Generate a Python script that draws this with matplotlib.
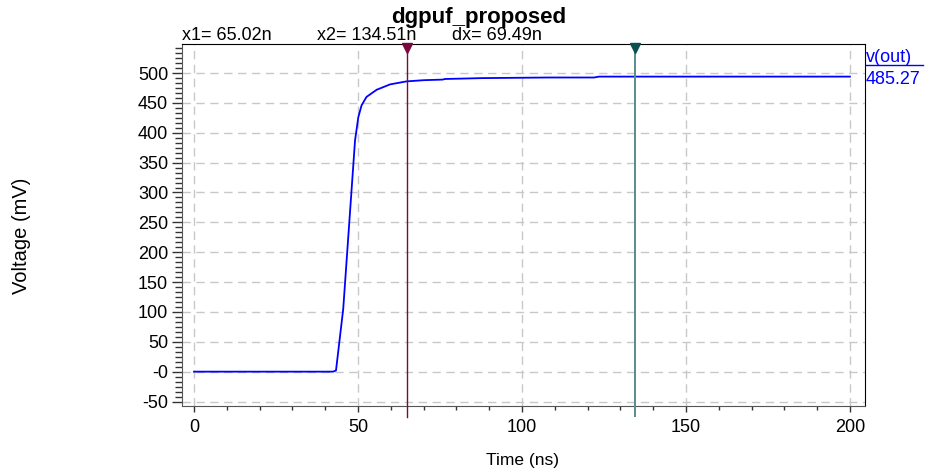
import matplotlib
matplotlib.use("Agg")
import matplotlib.pyplot as plt
from matplotlib.ticker import AutoMinorLocator, FixedLocator
from matplotlib.lines import Line2D

plt.rcParams['font.family'] = ['Liberation Sans', 'DejaVu Sans']

# ---- data ----
time_ns = [0, 42.4, 43.3, 45.5, 49.1, 50.1, 51.1, 52.6, 55.7, 59.8, 64.8,
           70, 75.8, 76.5, 88, 108, 122, 123.5, 200]
v_out_mV = [0, 0, 2, 105, 387, 426, 446, 460, 472, 481, 486,
            488, 489, 490, 491.5, 492.5, 492.5, 494, 494]
x_ticks = [0, 50, 100, 150, 200]
y_ticks = [-50, 0, 50, 100, 150, 200, 250, 300, 350, 400, 450, 500]
y_tick_labels = ['-50', '-0', '50', '100', '150', '200', '250', '300',
                 '350', '400', '450', '500']
cursor_x1 = 65.02
cursor_x2 = 134.51
title = 'dgpuf_proposed'
header_x1 = 'x1= 65.02n'
header_x2 = 'x2= 134.51n'
header_dx = 'dx= 69.49n'
legend_name = 'v(out)'
legend_value = '485.27'

W, H = 933, 475
fig = plt.figure(figsize=(W / 100, H / 100), dpi=100)
ax = fig.add_axes([182 / W, 1 - 406 / H, (865 - 182) / W, (406 - 44) / H])

ax.plot(time_ns, v_out_mV, color='#0000ff', lw=1.3, zorder=3)

ax.set_xlim(-3.66, 204.6)
ax.set_ylim(-57.5, 548.6)

ax.xaxis.set_major_locator(FixedLocator(x_ticks))
ax.xaxis.set_minor_locator(AutoMinorLocator(5))
ax.yaxis.set_major_locator(FixedLocator(y_ticks))
ax.set_yticklabels(y_tick_labels)
ax.yaxis.set_minor_locator(AutoMinorLocator(6))

ax.tick_params(axis='both', which='both', direction='out', labelsize=13,
               color='#333333', width=1)
ax.tick_params(axis='y', which='major', length=7, pad=3)
ax.tick_params(axis='y', which='minor', length=5)
ax.tick_params(axis='x', which='major', length=4, pad=5)
ax.tick_params(axis='x', which='minor', length=3)

ax.grid(True, which='major', color='#c8c8c8', linestyle=(0, (6, 4)), lw=1)
for s in ['left', 'bottom']:
    ax.spines[s].set_color('#555555')
for s in ['top', 'right']:
    ax.spines[s].set_color('#000000')

# cursors
c1_line, c1_mark = '#7a0a3c', '#7a0a3c'
c2_line, c2_mark = '#5a8c8c', '#0d4f4f'
trans = ax.get_xaxis_transform()
ax.axvline(cursor_x1, ymin=-0.03, ymax=1, color=c1_line, lw=1.0,
           clip_on=False, zorder=4)
ax.axvline(cursor_x2, ymin=-0.028, ymax=1, color=c2_line, lw=1.4,
           clip_on=False, zorder=4)
ax.plot([cursor_x1], [0.989], marker='v', ms=7, color=c1_mark,
        transform=trans, clip_on=False, zorder=5)
ax.plot([cursor_x2], [0.989], marker='v', ms=7, color=c2_mark,
        transform=trans, clip_on=False, zorder=5)

# header texts
fig.text(479 / W, 1 - 22.5 / H, title, fontsize=16, fontweight='bold',
         ha='center', va='baseline')
fig.text(181.7 / W, 1 - 39.5 / H, header_x1, fontsize=13, ha='left', va='baseline')
fig.text(316.7 / W, 1 - 39.5 / H, header_x2, fontsize=13, ha='left', va='baseline')
fig.text(451.7 / W, 1 - 39.5 / H, header_dx, fontsize=13, ha='left', va='baseline')

# legend-ish labels
fig.text(866 / W, 1 - 61.5 / H, legend_name, fontsize=13, color='#0000ff',
         ha='left', va='baseline')
fig.add_artist(Line2D([866 / W, 923 / W], [1 - 65 / H, 1 - 65 / H],
                      color='#0000ff', lw=1, transform=fig.transFigure))
fig.text(866 / W, 1 - 83.5 / H, legend_value, fontsize=13, color='#0000ff',
         ha='left', va='baseline')

# axis labels
fig.text(522 / W, 1 - 460 / H, 'Time (ns)', fontsize=12.5, ha='center', va='center')
fig.text(22 / W, 1 - 236 / H, 'Voltage (mV)', fontsize=14.5, rotation=90,
         ha='center', va='center')

fig.savefig('out.png', dpi=100)
